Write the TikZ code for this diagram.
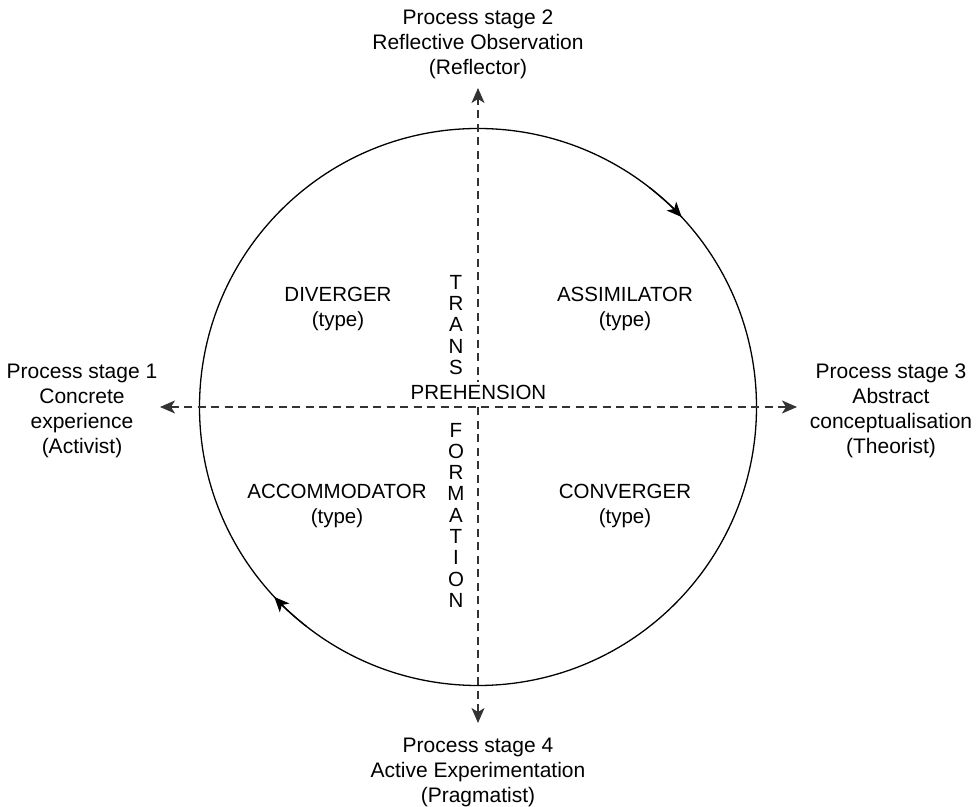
\documentclass[tikz,border=0pt]{standalone}
\usepackage{fontspec}
\setmainfont{Liberation Sans}
\usetikzlibrary{arrows.meta}
\tikzset{headtip/.tip={Stealth[length=15pt,width=13pt,inset=4pt]}}
\begin{document}
\begin{tikzpicture}[x=1pt,y=1pt,
  every node/.style={font=\fontsize{21}{25}\selectfont, inner sep=0pt, align=center},
  txt/.style={anchor=north},
  typebox/.style={anchor=north, font=\fontsize{20.5}{25}\selectfont},
  letters/.style={anchor=north, font=\fontsize{20.5}{21.3}\selectfont},
  dashline/.style={draw=black!80, line width=1.3pt, dash pattern=on 8pt off 5.5pt},
  ring/.style={draw=black, line width=1.3pt}]
\useasboundingbox (0,0) rectangle (980,806);

% centre of the cycle and the free ends of the two axes
\coordinate (c) at (478,399);
\coordinate (up) at (478,718);
\coordinate (down) at (478,83);
\coordinate (left) at (160,399);
\coordinate (right) at (797,399);

% the learning cycle with its clockwise direction marks
\draw[ring] (c) circle[radius=278.5];
\draw[ring, -{headtip}] ([shift={(52:278.5)}]c) arc[start angle=52, end angle=43, radius=278.5];
\draw[ring, -{headtip}] ([shift={(232:278.5)}]c) arc[start angle=232, end angle=223, radius=278.5];

% the two dimensions
\draw[dashline, {headtip}-{headtip}] (left) -- (right);
\draw[dashline, {headtip}-{headtip}] (down) -- (up);

% process stages
\node[txt] (s2) at (478,796) {Process stage 2\\Reflective Observation\\(Reflector)};
\node[txt] (s1) at (82,442) {Process stage 1\\Concrete\\experience\\(Activist)};
\node[txt] (s3) at (891,442) {Process stage 3\\Abstract\\conceptualisation\\(Theorist)};
\node[txt] (s4) at (478,68) {Process stage 4\\Active Experimentation\\(Pragmatist)};

% learner types
\node[typebox] (div) at (338,519) {DIVERGER\\(type)};
\node[typebox] (ass) at (625,519) {ASSIMILATOR\\(type)};
\node[typebox] (acc) at (337,322) {ACCOMMODATOR\\(type)};
\node[typebox] (con) at (625,322) {CONVERGER\\(type)};

% axis names
\node[letters] (trans) at (456,531) {T\\R\\A\\N\\S};
\node[letters] (form) at (456,383.3) {F\\O\\R\\M\\A\\T\\I\\O\\N};
\node[fill=white, inner xsep=2pt, inner ysep=4pt, anchor=base, font=\fontsize{20.5}{25}\selectfont] (pre) at (478.5,406) {PREHENSION};
\end{tikzpicture}
\end{document}
